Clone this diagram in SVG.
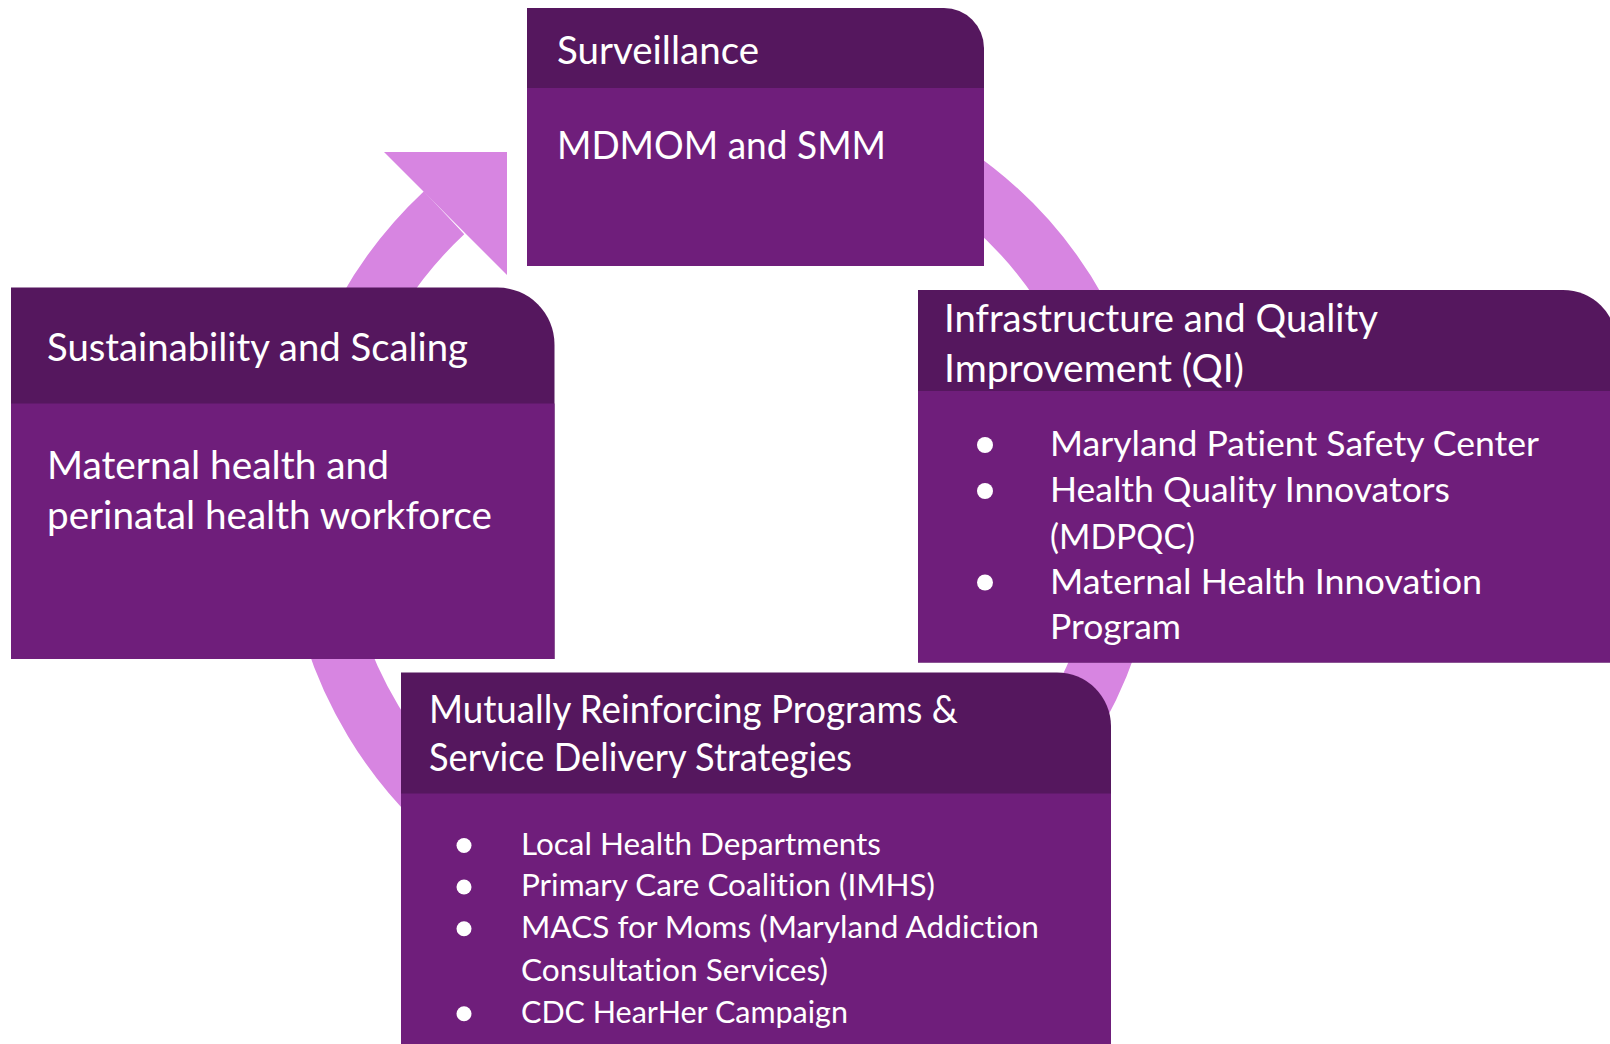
<svg xmlns="http://www.w3.org/2000/svg" width="1610" height="1044" viewBox="0 0 1610 1044">
<style>
.hd{fill:#55175E}
.bd{fill:#6F1E7B}
.t{font-family:Lato,"Liberation Sans",sans-serif;fill:#FFFFFF;font-variant-ligatures:none;font-feature-settings:"liga" 0}
.h{font-size:38px}
.b2{font-size:35.5px}
.b3{font-size:31.3px}
.dot{fill:#FFFFFF}
.ring{fill:none;stroke:#D785E1;stroke-width:59}
.head{fill:#D785E1}
</style>
<rect width="1610" height="1044" fill="#FFFFFF"/>
<g id="connectors">
<path class="ring" d="M 792.9 109.2 A 407.5 407.5 0 1 1 444.1 212.7"/>
<polygon class="head" points="384,152 507,152 507,275"/>
</g>
<g id="surveillance">
<path class="hd" d="M527 8 H944 A40 40 0 0 1 984 48 V266 H527 Z"/>
<rect class="bd" x="527" y="88" width="457" height="178"/>
<text class="t h" x="557" y="64" textLength="202" lengthAdjust="spacingAndGlyphs">Surveillance</text>
<text class="t h" x="557" y="159" textLength="329" lengthAdjust="spacingAndGlyphs">MDMOM and SMM</text>
</g>
<g id="sustainability">
<path class="hd" d="M11 287.5 H497.5 A57 57 0 0 1 554.5 344.5 V659 H11 Z"/>
<rect class="bd" x="11" y="403.5" width="543.5" height="255.5"/>
<text class="t h" x="47" y="361" textLength="421" lengthAdjust="spacingAndGlyphs">Sustainability and Scaling</text>
<text class="t h" x="47" y="479" textLength="342" lengthAdjust="spacingAndGlyphs">Maternal health and</text>
<text class="t h" x="47" y="529" textLength="445" lengthAdjust="spacingAndGlyphs">perinatal health workforce</text>
</g>
<g id="infrastructure">
<path class="hd" d="M918 290 H1563 A54 54 0 0 1 1617 344 V662.5 H918 Z"/>
<rect class="bd" x="918" y="391" width="699" height="271.5"/>
<text class="t h" x="944" y="332" textLength="434" lengthAdjust="spacingAndGlyphs">Infrastructure and Quality</text>
<text class="t h" x="944" y="382" textLength="300" lengthAdjust="spacingAndGlyphs">Improvement (QI)</text>
<circle class="dot" cx="985" cy="445" r="8"/>
<circle class="dot" cx="985" cy="491" r="8"/>
<circle class="dot" cx="985" cy="582.5" r="8"/>
<text class="t b2" x="1050" y="456" textLength="489" lengthAdjust="spacingAndGlyphs">Maryland Patient Safety Center</text>
<text class="t b2" x="1050" y="502" textLength="400" lengthAdjust="spacingAndGlyphs">Health Quality Innovators</text>
<text class="t b2" x="1050" y="548.5" textLength="145" lengthAdjust="spacingAndGlyphs">(MDPQC)</text>
<text class="t b2" x="1050" y="593.5" textLength="432" lengthAdjust="spacingAndGlyphs">Maternal Health Innovation</text>
<text class="t b2" x="1050" y="639" textLength="131" lengthAdjust="spacingAndGlyphs">Program</text>
</g>
<g id="mutual">
<path class="hd" d="M401 672.5 H1057 A54 54 0 0 1 1111 726.5 V1050 H401 Z"/>
<rect class="bd" x="401" y="793.5" width="710" height="256.5"/>
<text class="t h" x="429" y="723" textLength="529" lengthAdjust="spacingAndGlyphs">Mutually Reinforcing Programs &amp;</text>
<text class="t h" x="429" y="771" textLength="423" lengthAdjust="spacingAndGlyphs">Service Delivery Strategies</text>
<circle class="dot" cx="464" cy="845.5" r="7.5"/>
<circle class="dot" cx="464" cy="887" r="7.5"/>
<circle class="dot" cx="464" cy="928.7" r="7.5"/>
<circle class="dot" cx="464" cy="1013.7" r="7.5"/>
<text class="t b3" x="521" y="854.5" textLength="360" lengthAdjust="spacingAndGlyphs">Local Health Departments</text>
<text class="t b3" x="521" y="896" textLength="414" lengthAdjust="spacingAndGlyphs">Primary Care Coalition (IMHS)</text>
<text class="t b3" x="521" y="937.7" textLength="518" lengthAdjust="spacingAndGlyphs">MACS for Moms (Maryland Addiction</text>
<text class="t b3" x="521" y="981" textLength="307" lengthAdjust="spacingAndGlyphs">Consultation Services)</text>
<text class="t b3" x="521" y="1022.7" textLength="327" lengthAdjust="spacingAndGlyphs">CDC HearHer Campaign</text>
</g>
</svg>
